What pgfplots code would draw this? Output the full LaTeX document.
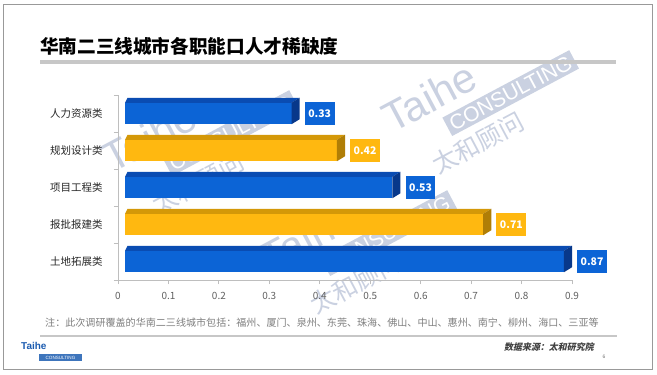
\documentclass[border=0pt]{standalone}
\usepackage{fontspec}
\usepackage{pgfplots}
\pgfplotsset{compat=1.18}
\setmainfont{Noto Sans CJK SC}
\newfontfamily\arial{Liberation Sans}
\newfontfamily\srcfont[FakeSlant=0.2]{Noto Sans CJK SC}

\definecolor{bfront}{RGB}{12,100,214}
\definecolor{btop}{RGB}{10,76,178}
\definecolor{bside}{RGB}{8,56,138}
\definecolor{yfront}{RGB}{255,184,16}
\definecolor{ytop}{RGB}{212,152,8}
\definecolor{yside}{RGB}{176,126,6}
\definecolor{wm}{RGB}{202,209,225}
\definecolor{axgray}{RGB}{190,190,190}
\definecolor{logoblue}{RGB}{28,92,176}

\newcommand{\wm}[2]{%
\begin{scope}[shift={(#1bp,-#2bp)}, rotate=28, transform shape]
  \node[anchor=base west, inner sep=0, text=wm, font=\arial\fontsize{42}{42}\selectfont] at (0,0) {Taihe};
  \node[anchor=north west, fill=wm, text=white, font=\arial\fontsize{21}{21}\selectfont, inner xsep=4bp, inner ysep=3bp] at (52bp,-9bp) {CONSULTING};
  \node[anchor=north west, inner sep=0, text=wm, font=\fontsize{25}{25}\selectfont] at (22bp,-37bp) {太和顾问};
\end{scope}}

\begin{document}
\begin{tikzpicture}
\useasboundingbox (0,0) rectangle (657bp,-375bp);
\fill[white] (0,0) rectangle (657bp,-375bp);
\draw[black!40, line width=1bp] (3bp,-4bp) rectangle (652bp,-369bp);

% watermarks
\wm{392}{134}
\wm{270}{274}
\wm{112}{174}

% title
\node[anchor=west, inner sep=0, font=\bfseries\fontsize{18.7}{20}\selectfont] at (40bp,-46.5bp) {华南二三线城市各职能口人才稀缺度};
\fill[black!22] (40bp,-60bp) rectangle (616bp,-64bp);

\begin{axis}[
  at={(118bp,-280bp)}, anchor=south west,
  scale only axis, width=454bp, height=185bp,
  xmin=0, xmax=0.9, ymin=-0.5, ymax=4.5,
  clip=false,
  axis x line*=bottom, axis y line*=left,
  axis line style={draw=axgray, line width=0.9pt, -},
  tick align=outside, major tick length=4bp,
  tick style={draw=axgray, line width=0.9pt},
  xtick={0,0.1,0.2,0.3,0.4,0.5,0.6,0.7,0.8,0.9},
  /pgf/number format/assume math mode=true,
  xticklabel style={font=\fontsize{10}{11}\selectfont, text=black!62, yshift=-4.5bp},
  ytick={-0.5,0.5,1.5,2.5,3.5,4.5},
  yticklabels={,,,,,},
  extra y ticks={0,1,2,3,4},
  extra y tick labels={土地拓展类,报批报建类,项目工程类,规划设计类,人力资源类},
  extra y tick style={major tick length=0pt, yticklabel style={font=\fontsize{10.5}{11}\selectfont, text=black!85, xshift=-12bp}},
]
% ---- bar 人力资源类 0.33 (blue)
\addplot[fill=bfront, draw=none] coordinates {(0.014,3.71) (0.344,3.71) (0.344,4.29) (0.014,4.29)} --cycle;
\addplot[fill=btop, draw=none] coordinates {(0.014,4.29) (0.344,4.29) (0.360,4.425) (0.019,4.425)} --cycle;
\addplot[fill=bside, draw=none] coordinates {(0.344,3.71) (0.360,3.845) (0.360,4.425) (0.344,4.29)} --cycle;
% ---- bar 规划设计类 0.42 (yellow)
\addplot[fill=yfront, draw=none] coordinates {(0.014,2.71) (0.434,2.71) (0.434,3.29) (0.014,3.29)} --cycle;
\addplot[fill=ytop, draw=none] coordinates {(0.014,3.29) (0.434,3.29) (0.450,3.425) (0.019,3.425)} --cycle;
\addplot[fill=yside, draw=none] coordinates {(0.434,2.71) (0.450,2.845) (0.450,3.425) (0.434,3.29)} --cycle;
% ---- bar 项目工程类 0.53 (blue)
\addplot[fill=bfront, draw=none] coordinates {(0.014,1.71) (0.544,1.71) (0.544,2.29) (0.014,2.29)} --cycle;
\addplot[fill=btop, draw=none] coordinates {(0.014,2.29) (0.544,2.29) (0.560,2.425) (0.019,2.425)} --cycle;
\addplot[fill=bside, draw=none] coordinates {(0.544,1.71) (0.560,1.845) (0.560,2.425) (0.544,2.29)} --cycle;
% ---- bar 报批报建类 0.71 (yellow)
\addplot[fill=yfront, draw=none] coordinates {(0.014,0.71) (0.724,0.71) (0.724,1.29) (0.014,1.29)} --cycle;
\addplot[fill=ytop, draw=none] coordinates {(0.014,1.29) (0.724,1.29) (0.740,1.425) (0.019,1.425)} --cycle;
\addplot[fill=yside, draw=none] coordinates {(0.724,0.71) (0.740,0.845) (0.740,1.425) (0.724,1.29)} --cycle;
% ---- bar 土地拓展类 0.87 (blue)
\addplot[fill=bfront, draw=none] coordinates {(0.014,-0.29) (0.884,-0.29) (0.884,0.29) (0.014,0.29)} --cycle;
\addplot[fill=btop, draw=none] coordinates {(0.014,0.29) (0.884,0.29) (0.900,0.425) (0.019,0.425)} --cycle;
\addplot[fill=bside, draw=none] coordinates {(0.884,-0.29) (0.900,-0.155) (0.900,0.425) (0.884,0.29)} --cycle;
% ---- value labels
\addplot[draw=none, mark=none, nodes near coords, point meta=explicit symbolic,
  every node near coord/.append style={anchor=west, xshift=5bp, fill=bfront, text=white,
  font=\bfseries\fontsize{10.5}{11}\selectfont, inner xsep=3.5bp, minimum height=23bp}]
  coordinates {(0.360,4)[0.33] (0.560,2)[0.53] (0.900,0)[0.87]};
\addplot[draw=none, mark=none, nodes near coords, point meta=explicit symbolic,
  every node near coord/.append style={anchor=west, xshift=5bp, fill=yfront, text=white,
  font=\bfseries\fontsize{10.5}{11}\selectfont, inner xsep=3.5bp, minimum height=23bp}]
  coordinates {(0.450,3)[0.42] (0.740,1)[0.71]};
\end{axis}

% footnote
\node[anchor=west, inner sep=0, text=black!50, font=\fontsize{10.1}{10.5}\selectfont] at (45bp,-323bp) {注：此次调研覆盖的华南二三线城市包括：福州、厦门、泉州、东莞、珠海、佛山、中山、惠州、南宁、柳州、海口、三亚等};
\draw[black!22, line width=1.2bp] (40bp,-336bp) -- (617bp,-336bp);

% logo
\node[anchor=west, inner sep=0, text=logoblue, font=\arial\bfseries\fontsize{10}{10}\selectfont] at (21bp,-346bp) {Taihe};
\fill[logoblue!85] (39bp,-354bp) rectangle (82bp,-361bp);
\node[inner sep=0, text=white, font=\arial\fontsize{4.6}{5}\selectfont] at (60.5bp,-357.5bp) {CONSULTING};

% source
\node[anchor=east, inner sep=0, text=black!75, font=\srcfont\bfseries\fontsize{9}{9}\selectfont] at (594bp,-347bp) {数据来源：太和研究院};
\node[inner sep=0, text=black!55, font=\arial\fontsize{5}{5}\selectfont] at (604bp,-357bp) {6};
\end{tikzpicture}
\end{document}
